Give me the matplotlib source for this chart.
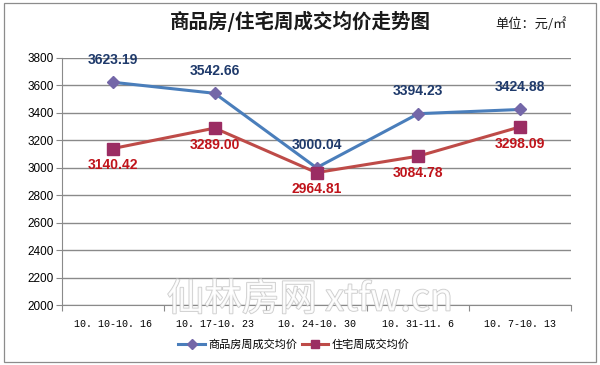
import matplotlib
matplotlib.use("Agg")
import matplotlib.pyplot as plt
import matplotlib.patheffects as pe
from matplotlib.patches import Rectangle

categories = ["10. 10-10. 16", "10. 17-10. 23", "10. 24-10. 30", "10. 31-11. 6", "10. 7-10. 13"]
commercial = [3623.19, 3542.66, 3000.04, 3394.23, 3424.88]
residential = [3140.42, 3289.00, 2964.81, 3084.78, 3298.09]
series_names = ["商品房周成交均价", "住宅周成交均价"]
yticks = list(range(2000, 3801, 200))

cjk = ["Noto Sans CJK SC", "DejaVu Sans"]
num = ["Liberation Sans", "DejaVu Sans"]

fig = plt.figure(figsize=(6, 3.65), dpi=100)
fig.patch.set_facecolor("white")

# chart border
fig.add_artist(Rectangle((4/600, 1-362/365), 592/600, 359/365, transform=fig.transFigure,
                         fill=False, edgecolor="#8c8c8c", linewidth=0.9))

ax = fig.add_axes([62/600, 1-305/365, 509/600, 247/365])
x = list(range(len(categories)))
ax.set_xlim(-0.5, len(categories) - 0.5)
ax.set_ylim(2000, 3800)
ax.set_yticks(yticks)
ax.set_yticklabels([str(v) for v in yticks], fontfamily=num, fontsize=8.5)
ax.yaxis.grid(True, color="#8a8a8a", linewidth=1.0)
ax.set_axisbelow(True)
for s in ["top", "right"]:
    ax.spines[s].set_visible(False)
ax.spines["left"].set_color("#8a8a8a")
ax.spines["bottom"].set_color("#8a8a8a")
ax.tick_params(axis="y", length=4, color="#8a8a8a", pad=2)
ax.set_xticks([i - 0.5 for i in range(len(categories) + 1)])
ax.set_xticklabels([])
ax.set_xticks(x, minor=True)
ax.set_xticklabels(categories, minor=True, fontfamily=["Liberation Mono"], fontsize=7.2)
ax.tick_params(axis="x", which="major", length=4, color="#8a8a8a")
ax.tick_params(axis="x", which="minor", length=0, pad=10)

ax.plot(x, commercial, color="#4A7EBB", linewidth=2.2, marker="D", markersize=6,
        markerfacecolor="#7467A8", markeredgecolor="#7467A8", label=series_names[0], zorder=3)
ax.plot(x, residential, color="#BE4B48", linewidth=2.2, marker="s", markersize=8,
        markerfacecolor="#9B2D63", markeredgecolor="#9B2D63", label=series_names[1], zorder=3)

for xi, v in zip(x, commercial):
    ax.annotate(f"{v:.2f}", (xi, v), xytext=(0, 11), textcoords="offset points",
                ha="center", va="bottom", color="#1F3A6B", fontweight="bold",
                fontsize=10, fontfamily=num)
for xi, v in zip(x, residential):
    ax.annotate(f"{v:.2f}", (xi, v), xytext=(0, -7), textcoords="offset points",
                ha="center", va="top", color="#C0141B", fontweight="bold",
                fontsize=10, fontfamily=num)

leg = fig.legend(loc="center", bbox_to_anchor=(294/600, 1-345/365), ncol=2, frameon=False,
                 prop={"family": cjk, "size": 8}, handlelength=2.4, columnspacing=0.4,
                 handletextpad=0.3, markerscale=0.8)

fig.text(300/600, 1-21/365, "商品房/住宅周成交均价走势图", ha="center", va="center",
         fontsize=14, fontweight="bold", fontfamily=cjk, color="#1a1a1a")
fig.text(567/600, 1-24/365, "单位：元/㎡", ha="right", va="center", fontsize=9.5,
         fontfamily=cjk, color="#1a1a1a")

# watermark
fig.text(310/600, 1-300/365, "仙林房网 xtfw.cn", ha="center", va="center", fontsize=27,
         fontfamily=cjk, color="white", alpha=0.85,
         path_effects=[pe.withStroke(linewidth=1.2, foreground="#c4c4c4")], zorder=5)

fig.savefig("out.png", dpi=100, facecolor="white")
